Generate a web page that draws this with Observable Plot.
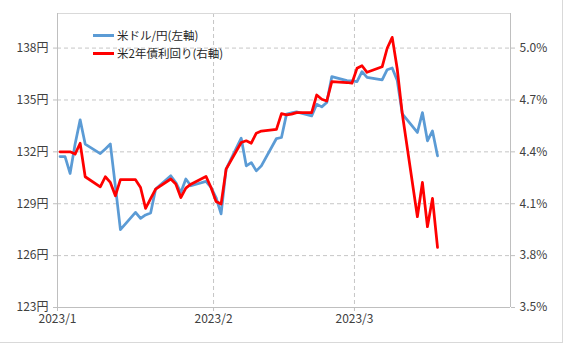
<!DOCTYPE html>
<html><head><meta charset="utf-8">
<script src="https://cdn.jsdelivr.net/npm/d3@7"></script>
<script src="https://cdn.jsdelivr.net/npm/@observablehq/plot@0.6"></script>
<style>
body{margin:0;background:#fff;}
#wrap{position:relative;width:568px;height:344px;overflow:hidden;font-family:"Noto Sans CJK JP",sans-serif;}
.sw{position:absolute;height:3px;width:21px;left:93px;}
.lt{position:absolute;left:117px;font-size:11.5px;line-height:14px;color:#262626;white-space:nowrap;}
.bd{position:absolute;background:#d9d9d9;}
</style></head>
<body><div id="wrap"></div>
<script>
const dates = [
 "2023-01-01","2023-01-02","2023-01-03","2023-01-04","2023-01-05","2023-01-06",
 "2023-01-09","2023-01-10","2023-01-11","2023-01-12","2023-01-13",
 "2023-01-16","2023-01-17","2023-01-18","2023-01-19","2023-01-20",
 "2023-01-23","2023-01-24","2023-01-25","2023-01-26","2023-01-27",
 "2023-01-30","2023-01-31","2023-02-01","2023-02-02","2023-02-03",
 "2023-02-06","2023-02-07","2023-02-08","2023-02-09","2023-02-10",
 "2023-02-13","2023-02-14","2023-02-15","2023-02-16","2023-02-17",
 "2023-02-20","2023-02-21","2023-02-22","2023-02-23","2023-02-24",
 "2023-02-27","2023-02-28","2023-03-01","2023-03-02","2023-03-03",
 "2023-03-06","2023-03-07","2023-03-08","2023-03-09","2023-03-10",
 "2023-03-13","2023-03-14","2023-03-15","2023-03-16","2023-03-17"
];
const usdjpy = [
 131.73,131.73,130.75,132.45,133.85,132.45,
 131.90,132.17,132.45,130.00,127.50,
 128.50,128.15,128.35,128.46,129.85,
 130.62,130.23,129.65,130.43,130.04,
 130.29,129.94,129.36,128.41,131.00,
 132.79,131.19,131.38,130.90,131.19,
 132.77,132.83,134.18,134.25,134.31,
 134.08,134.75,134.60,134.85,136.35,
 136.12,136.10,136.06,136.64,136.31,
 136.16,136.75,136.85,136.12,134.20,
 133.12,134.27,132.64,133.21,131.77
];
const us2y = [
 4.400,4.400,4.400,4.387,4.450,4.256,
 4.198,4.256,4.223,4.146,4.239,
 4.239,4.194,4.073,4.129,4.185,
 4.243,4.214,4.136,4.190,4.213,
 4.258,4.194,4.113,4.098,4.300,
 4.454,4.464,4.450,4.508,4.520,
 4.530,4.621,4.614,4.618,4.627,
 4.627,4.729,4.704,4.694,4.806,
 4.801,4.797,4.883,4.898,4.860,
 4.892,4.999,5.062,4.879,4.620,
 4.025,4.223,3.967,4.131,3.848
];
const yenTicks = [123,126,129,132,135,138];
const pctTicks = [3.5,3.8,4.1,4.4,4.7,5.0];
const monthTicks = ["2023-01-01","2023-02-01","2023-03-01"];
const monthLabels = ["2023/1","2023/2","2023/3"];
const seriesNames = ["米ドル/円(左軸)","米2年債利回り(右軸)"];
const seriesColors = ["#5b9bd5","#ff0000"];

const parse = d3.utcParse("%Y-%m-%d");
const mid = s => d3.utcHour.offset(parse(s), 12);
const toLeft = p => 123 + (p - 3.5) * 10;
const xStart = parse("2023-01-01"), xEnd = parse("2023-04-01");
const yMin = 123, yMax = 140;

const blue = dates.map((d,i) => ({date: mid(d), v: usdjpy[i]}));
const red = dates.map((d,i) => ({date: mid(d), v: toLeft(us2y[i])}));
const mDates = monthTicks.map(parse);

const chart = Plot.plot({
  width: 568, height: 344,
  marginLeft: 57, marginRight: 58, marginTop: 13, marginBottom: 37,
  style: {fontFamily: "'Noto Sans CJK JP', sans-serif", fontSize: "12px", color: "#404040", background: "transparent"},
  x: {type: "utc", domain: [xStart, xEnd]},
  y: {domain: [yMin, yMax]},
  marks: [
    Plot.ruleY(yenTicks.slice(1), {stroke: "#c6c6c6", strokeDasharray: "4,3"}),
    Plot.ruleX(mDates.slice(1), {stroke: "#c6c6c6", strokeDasharray: "4,3"}),
    Plot.ruleY([yMax], {stroke: "#d9d9d9"}),
    Plot.ruleX([xStart, xEnd], {stroke: "#bfbfbf"}),
    Plot.ruleY([yMin], {stroke: "#bfbfbf"}),
    Plot.axisY(yenTicks, {anchor: "left", tickSize: 4, tickPadding: 5, stroke: "#bfbfbf", tickFormat: d => d + "円", label: null}),
    Plot.axisY(pctTicks.map(toLeft), {anchor: "right", tickSize: 4, tickPadding: 5, stroke: "#bfbfbf",
      tickFormat: (d, i) => pctTicks[i].toFixed(1) + "%", label: null}),
    Plot.axisX(mDates, {anchor: "bottom", tickSize: 4, tickPadding: 3, stroke: "#bfbfbf",
      tickFormat: (d, i) => monthLabels[i], label: null}),
    Plot.line(blue, {x: "date", y: "v", stroke: seriesColors[0], strokeWidth: 2.75}),
    Plot.line(red, {x: "date", y: "v", stroke: seriesColors[1], strokeWidth: 2.75})
  ]
});
const wrap = document.getElementById("wrap");
wrap.appendChild(chart);

// legend
const tops = [35.5, 53.5];
seriesNames.forEach((name, i) => {
  const sw = document.createElement("div");
  sw.className = "sw"; sw.style.top = (tops[i] - 1.5) + "px"; sw.style.background = seriesColors[i];
  wrap.appendChild(sw);
  const t = document.createElement("div");
  t.className = "lt"; t.style.top = (tops[i] - 7.5) + "px"; t.textContent = name;
  wrap.appendChild(t);
});
// outer chart border (right / bottom)
const b1 = document.createElement("div"); b1.className = "bd";
b1.style.cssText += "left:562px;top:0;width:1px;height:343px;"; wrap.appendChild(b1);
const b2 = document.createElement("div"); b2.className = "bd";
b2.style.cssText += "left:0;top:342px;width:563px;height:1px;"; wrap.appendChild(b2);
</script></body></html>
